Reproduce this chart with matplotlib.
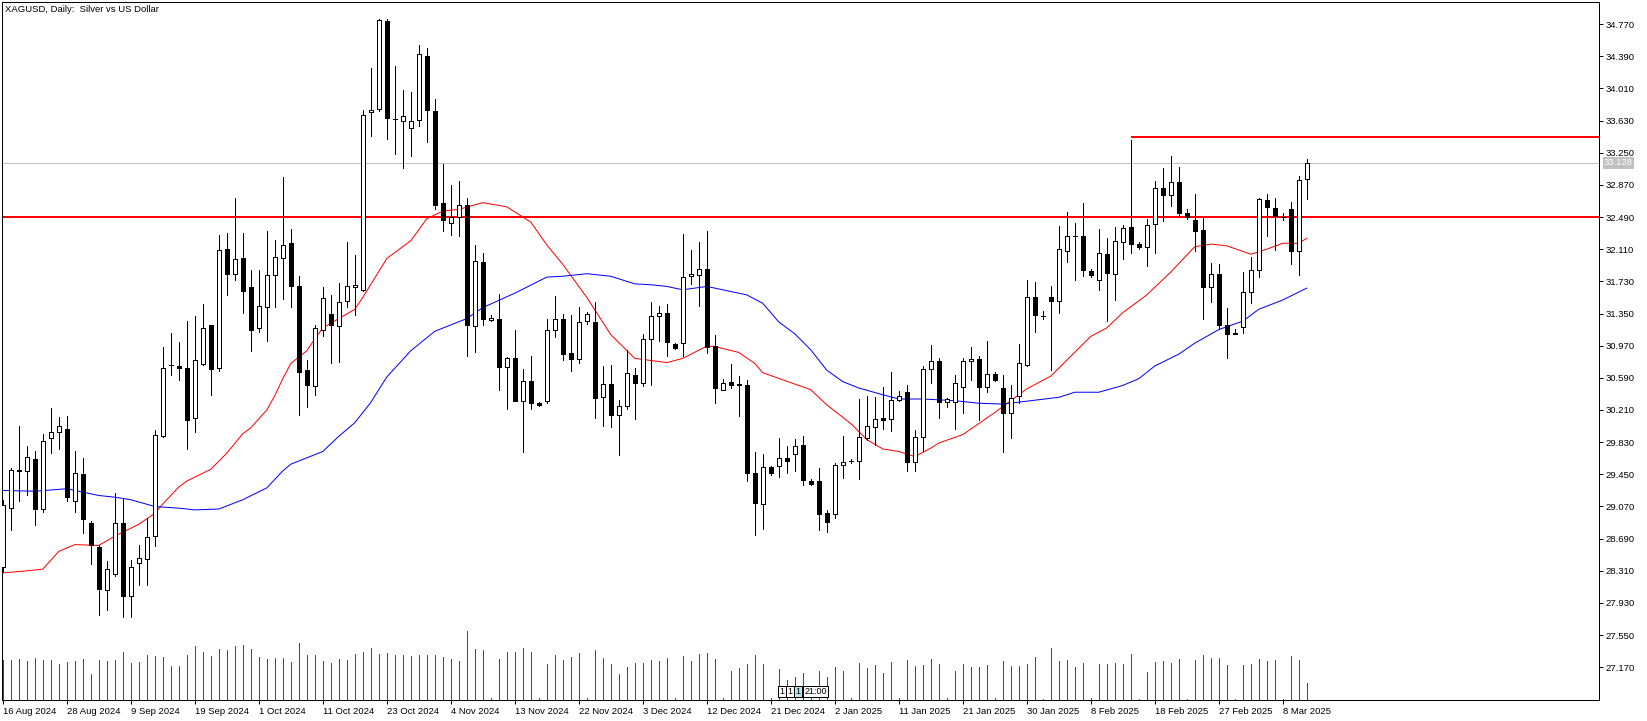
import numpy as np
import matplotlib.pyplot as plt
from matplotlib.patches import Rectangle

# daily candles, XAGUSD (bar 0 = 16 Aug 2024)
opens = [28.35, 29.05, 29.49, 29.49, 29.635, 29.04, 29.88, 29.95, 29.98, 29.13,
         29.45, 28.88, 28.59, 28.08, 28.275, 28.87, 28.01, 28.40, 28.45, 28.72,
         29.90, 30.74, 30.73, 30.71, 30.12, 30.75, 31.21, 30.71, 32.11, 31.815,
         32.01, 31.66, 31.18, 31.43, 31.80, 32.00, 32.18, 31.68, 30.68, 30.49,
         31.16, 31.34, 31.20, 31.50, 31.66, 31.63, 33.73, 33.77, 34.81, 33.645,
         33.63, 33.54, 33.64, 34.39, 33.74, 32.65, 32.42, 32.49, 32.63, 31.20,
         31.96, 31.27, 31.28, 30.72, 30.83, 30.32, 30.55, 30.29, 30.32, 31.15,
         31.29, 30.88, 30.81, 31.26, 31.25, 30.36, 30.52, 30.15, 30.26, 30.62,
         30.53, 31.05, 31.32, 31.36, 30.99, 31.00, 31.79, 31.81, 31.87, 30.965,
         30.45, 30.54, 30.51, 30.505, 29.46, 29.10, 29.535, 29.55, 29.64, 29.69,
         29.80, 29.37, 29.37, 28.99, 28.98, 29.56, 29.605, 29.61, 29.885, 30.01,
         30.11, 30.10, 30.33, 30.42, 29.59, 29.89, 30.70, 30.79, 30.30, 30.30,
         30.48, 30.79, 30.81, 30.48, 30.64, 30.465, 30.17, 30.37, 30.74, 31.54,
         31.32, 31.54, 31.50, 32.09, 32.26, 32.26, 31.85, 31.74, 32.05, 31.82,
         32.20, 32.37, 32.17, 32.14, 32.41, 32.83, 32.75, 32.90, 32.54, 32.45,
         32.34, 31.66, 31.82, 31.21, 31.11, 31.19, 31.60, 31.86, 32.69, 32.60,
         32.49, 32.58, 32.09, 32.94]
highs = [29.15, 29.53, 30.02, 29.79, 29.73, 29.93, 30.23, 30.13, 30.14, 29.73,
         29.64, 28.90, 28.62, 28.43, 29.23, 29.17, 28.44, 28.62, 28.93, 29.97,
         30.95, 31.12, 31.01, 31.26, 31.32, 31.46, 31.21, 32.28, 32.30, 32.71,
         32.30, 31.86, 31.86, 32.32, 32.22, 32.96, 32.35, 31.79, 30.80, 31.21,
         31.66, 31.57, 31.71, 32.19, 32.04, 33.75, 34.25, 34.83, 34.83, 34.27,
         33.99, 33.97, 34.52, 34.49, 33.88, 33.12, 32.87, 32.92, 32.72, 32.16,
         32.07, 31.33, 31.58, 30.84, 31.16, 30.69, 30.85, 30.30, 31.29, 31.56,
         31.35, 31.33, 31.43, 31.37, 31.49, 30.73, 30.74, 30.33, 30.92, 30.71,
         31.11, 31.49, 31.44, 31.46, 31.00, 32.29, 32.10, 32.19, 32.32, 31.10,
         30.58, 30.75, 30.61, 30.57, 29.71, 29.69, 29.55, 29.88, 29.79, 29.87,
         29.90, 29.40, 29.52, 29.03, 29.58, 29.90, 29.63, 30.34, 30.38, 30.36,
         30.48, 30.66, 30.43, 30.50, 29.97, 30.73, 30.98, 30.83, 30.35, 30.62,
         30.83, 30.95, 30.85, 31.02, 30.66, 30.62, 30.50, 30.99, 31.74, 31.72,
         31.38, 31.68, 32.38, 32.55, 32.42, 32.65, 31.88, 32.35, 32.24, 32.37,
         32.40, 33.40, 32.20, 32.47, 32.91, 33.07, 33.21, 33.08, 32.58, 32.76,
         32.48, 31.95, 31.94, 31.41, 31.17, 31.84, 32.02, 32.71, 32.76, 32.71,
         32.54, 32.67, 32.97, 33.17]
lows = [28.30, 28.79, 29.14, 29.21, 28.85, 29.01, 29.70, 29.75, 29.13, 29.00,
        28.76, 28.39, 27.79, 27.85, 28.25, 27.76, 27.77, 28.14, 28.14, 28.60,
        29.89, 30.62, 30.56, 29.75, 29.95, 30.74, 30.39, 30.67, 31.57, 31.75,
        31.36, 30.91, 31.13, 31.02, 31.43, 31.52, 31.43, 30.15, 30.25, 30.39,
        31.08, 30.76, 30.78, 31.43, 31.33, 31.62, 33.445, 33.74, 33.41, 33.23,
        33.07, 33.21, 33.57, 33.38, 32.58, 32.33, 32.28, 32.26, 30.85, 30.89,
        31.21, 31.26, 30.45, 30.22, 30.32, 29.71, 30.22, 30.26, 30.29, 31.07,
        30.80, 30.67, 30.76, 31.23, 30.11, 30.02, 30.01, 29.68, 30.22, 30.10,
        30.49, 30.50, 31.02, 30.85, 30.93, 30.85, 31.70, 31.44, 30.88, 30.29,
        30.45, 30.47, 30.14, 29.37, 28.73, 28.80, 29.44, 29.42, 29.46, 29.49,
        29.32, 29.32, 28.79, 28.77, 28.94, 29.41, 29.58, 29.40, 29.86, 29.80,
        29.99, 29.96, 30.32, 29.495, 29.495, 29.73, 30.525, 30.12, 30.25, 29.98,
        30.18, 30.56, 30.09, 30.42, 30.55, 29.71, 29.88, 30.29, 30.73, 31.13,
        31.28, 30.68, 31.36, 31.96, 31.75, 31.79, 31.78, 31.63, 31.26, 31.51,
        31.99, 32.07, 32.11, 31.91, 32.07, 32.44, 32.615, 32.49, 32.47, 32.09,
        31.29, 31.49, 31.17, 30.82, 31.11, 31.12, 31.47, 31.78, 32.26, 32.10,
        32.45, 31.93, 31.81, 32.70]
closes = [29.09, 29.50, 29.50, 29.65, 29.04, 29.845, 29.95, 30.02, 29.18, 29.47,
          28.92, 28.61, 28.10, 28.33, 28.88, 28.01, 28.36, 28.46, 28.71, 29.91,
          30.71, 30.745, 30.71, 30.09, 30.80, 31.18, 30.70, 32.10, 31.82, 31.99,
          31.62, 31.16, 31.44, 31.81, 32.02, 32.16, 31.68, 30.66, 30.50, 31.18,
          31.535, 31.21, 31.49, 31.67, 31.69, 33.69, 33.76, 34.82, 33.66, 33.65,
          33.68, 33.63, 34.41, 33.75, 32.63, 32.45, 32.49, 32.63, 31.22, 31.97,
          31.28, 31.30, 30.72, 30.82, 30.32, 30.55, 30.29, 30.27, 31.15, 31.29,
          30.87, 30.81, 31.25, 31.35, 30.35, 30.52, 30.15, 30.26, 30.65, 30.53,
          31.05, 31.32, 31.36, 31.01, 30.94, 31.78, 31.82, 31.87, 30.96, 30.47,
          30.525, 30.51, 30.515, 29.47, 29.11, 29.535, 29.47, 29.64, 29.61, 29.79,
          29.38, 29.33, 28.98, 28.89, 29.56, 29.60, 29.61, 29.89, 30.02, 30.10,
          30.09, 30.33, 30.37, 29.59, 29.89, 30.70, 30.79, 30.30, 30.34, 30.525,
          30.79, 30.81, 30.48, 30.64, 30.56, 30.17, 30.35, 30.77, 31.54, 31.33,
          31.325, 31.50, 32.107, 32.26, 32.265, 31.86, 31.80, 32.06, 31.83, 32.21,
          32.365, 32.17, 32.13, 32.40, 32.83, 32.75, 32.90, 32.54, 32.49, 32.33,
          31.66, 31.82, 31.21, 31.11, 31.115, 31.60, 31.86, 32.70, 32.61, 32.50,
          32.495, 32.09, 32.93, 33.128]
# tick volume, thousands
volumes = [40, 40, 41, 39, 42, 40, 40, 36, 38, 39,
           41, 26, 40, 39, 40, 48, 37, 38, 45, 44,
           43, 34, 34, 45, 54, 48, 44, 51, 50, 54,
           55, 51, 43, 41, 42, 42, 38, 57, 45, 45,
           39, 37, 41, 40, 46, 48, 52, 46, 47, 45,
           45, 44, 45, 45, 45, 43, 41, 39, 69, 51,
           50, 2, 41, 48, 48, 52, 48, 2, 36, 45,
           40, 43, 47, 2, 50, 42, 36, 26, 33, 37,
           37, 40, 39, 42, 2, 44, 39, 46, 47, 41,
           2, 29, 32, 36, 45, 36, 2, 31, 20, 23,
           27, 2, 29, 23, 33, 29, 2, 37, 32, 35,
           27, 38, 2, 40, 34, 35, 41, 36, 2, 29,
           36, 33, 33, 35, 2, 39, 34, 34, 36, 43,
           1, 52, 39, 40, 33, 37, 2, 36, 36, 37,
           36, 46, 1, 28, 38, 39, 37, 41, 1, 40,
           45, 42, 42, 35, 1, 35, 36, 41, 39, 40,
           1, 44, 40, 17]

# moving averages (bar index, price)
ma_red_idx = [0, 3, 5, 7, 9, 12, 14, 17, 19, 20, 22, 23, 26, 28, 30, 31, 33, 34,
              35, 36, 38, 39, 40, 42, 44, 45, 48, 51, 53, 55, 57, 60, 63, 66, 68,
              70, 73, 76, 79, 83, 85, 88, 89, 92, 94, 95, 98, 101, 103, 106, 108,
              110, 112, 114, 116, 117, 120, 122, 124, 128, 131, 136, 138, 140, 143,
              146, 149, 151, 153, 156, 158, 160, 162, 163]
ma_red = [28.285, 28.31, 28.33, 28.54, 28.62, 28.61, 28.72, 28.86, 28.99, 29.10,
          29.30, 29.37, 29.51, 29.70, 29.93, 30.00, 30.21, 30.38, 30.58, 30.76,
          30.91, 31.05, 31.18, 31.29, 31.40, 31.54, 32.00, 32.21, 32.47, 32.56,
          32.58, 32.66, 32.61, 32.43, 32.16, 31.93, 31.54, 31.10, 30.82, 30.77,
          30.82, 30.965, 30.96, 30.89, 30.76, 30.65, 30.55, 30.45, 30.27, 30.05,
          29.86, 29.75, 29.72, 29.66, 29.76, 29.82, 29.92, 30.05, 30.18, 30.46,
          30.61, 31.08, 31.18, 31.36, 31.57, 31.84, 32.14, 32.17, 32.15, 32.05,
          32.11, 32.18, 32.18, 32.24]
ma_blue_idx = [0, 4, 8, 12, 14, 16, 19, 22, 24, 27, 30, 33, 35, 36, 40, 42, 44, 46,
               48, 51, 54, 58, 60, 64, 68, 70, 73, 76, 79, 81, 83, 85, 88, 90, 93,
               95, 97, 99, 101, 103, 105, 107, 110, 112, 115, 119, 122, 125, 132,
               134, 137, 140, 142, 144, 147, 149, 152, 155, 157, 160, 163]
ma_blue = [29.26, 29.25, 29.28, 29.20, 29.18, 29.15, 29.07, 29.05, 29.03, 29.04,
           29.15, 29.29, 29.49, 29.57, 29.72, 29.90, 30.06, 30.30, 30.60, 30.91,
           31.14, 31.29, 31.42, 31.59, 31.78, 31.79, 31.82, 31.79, 31.70, 31.69,
           31.67, 31.63, 31.67, 31.63, 31.57, 31.47, 31.25, 31.11, 30.92, 30.68,
           30.545, 30.47, 30.39, 30.34, 30.34, 30.32, 30.29, 30.28, 30.36, 30.42,
           30.42, 30.50, 30.58, 30.73, 30.87, 31.00, 31.16, 31.26, 31.40, 31.51,
           31.65]

date_labels = ["16 Aug 2024", "28 Aug 2024", "9 Sep 2024", "19 Sep 2024", "1 Oct 2024",
               "11 Oct 2024", "23 Oct 2024", "4 Nov 2024", "13 Nov 2024", "22 Nov 2024",
               "3 Dec 2024", "12 Dec 2024", "21 Dec 2024", "2 Jan 2025", "11 Jan 2025",
               "21 Jan 2025", "30 Jan 2025", "8 Feb 2025", "18 Feb 2025", "27 Feb 2025",
               "8 Mar 2025"]
price_ticks = [34.770, 34.390, 34.010, 33.630, 33.250, 32.870, 32.490, 32.110, 31.730,
               31.350, 30.970, 30.590, 30.210, 29.830, 29.450, 29.070, 28.690, 28.310,
               27.930, 27.550, 27.170]
support_level = 32.49
top_level = 33.43
top_level_from = 141
last_price = 33.128

W, H = 1647, 721
px = 72 / 100  # one pixel in points
fs = 6.8
plt.rcParams['font.family'] = ['Liberation Sans', 'DejaVu Sans']

fig = plt.figure(figsize=(W / 100, H / 100), dpi=100)
ax = fig.add_axes([2 / W, 21 / H, 1597 / W, 698 / H])
axv = ax.twinx()
ax.set_zorder(axv.get_zorder() + 1)
ax.patch.set_visible(False)

n = len(closes)
x = np.arange(n)

# volume bars
axv.vlines(x, 0, volumes, color='#008000', lw=px, antialiased=False)
axv.set_ylim(0, max(volumes) / 0.099)
axv.set_yticks([])
for s in axv.spines.values():
    s.set_visible(False)

# horizontal levels
ax.axhline(last_price, color='#C0C0C0', lw=px, zorder=1)
ax.axhline(support_level, color='#FF0000', lw=2 * px, zorder=2)
ax.hlines(top_level, top_level_from, 300, color='#FF0000', lw=2 * px, zorder=2)

# moving averages
ax.plot(ma_red_idx, ma_red, color='#FF0000', lw=px, zorder=3)
ax.plot(ma_blue_idx, ma_blue, color='#0000FF', lw=px, zorder=3)

# candles
ax.vlines(x, lows, highs, color='black', lw=px, zorder=4, antialiased=False)
bw = 0.55
for i in range(n):
    o, c = opens[i], closes[i]
    up = c >= o
    ax.add_patch(Rectangle((i - bw / 2, min(o, c)), bw, max(abs(c - o), 0.004),
                           facecolor='white' if up else 'black', edgecolor='black',
                           lw=px, zorder=5, antialiased=False))

ax.set_xlim(-0.1, 199.525)
ax.set_ylim(26.784, 35.03)

ax.yaxis.tick_right()
ax.set_yticks(price_ticks)
ax.set_yticklabels([f"{t:.3f}" for t in price_ticks], fontsize=fs)
ax.set_xticks(np.arange(0, 8 * len(date_labels), 8))
ax.set_xticklabels(date_labels, fontsize=fs, ha='left')
ax.tick_params(axis='both', direction='out', length=4 * px, width=px, colors='black',
               pad=2)
for s in ax.spines.values():
    s.set_color('black')
    s.set_linewidth(px)

ax.annotate("XAGUSD, Daily:  Silver vs US Dollar", xy=(0, 1), xycoords='axes fraction',
            xytext=(3, -3), textcoords='offset pixels', ha='left', va='top', fontsize=fs)

ax.annotate(f"{last_price:.3f}", xy=(1, last_price), xycoords=ax.get_yaxis_transform(),
            xytext=(5, 0), textcoords='offset pixels', ha='left', va='center',
            color='white', fontsize=fs,
            bbox=dict(boxstyle='square,pad=0.15', fc='#C0C0C0', ec='none'))

# small event markers near the bottom
marks = [(97.4, "1", 'white'), (98.4, "1", 'white'), (99.4, "1", '#B4E8F0'),
         (101.6, "21:00", 'white')]
for mx, mt, mc in marks:
    ax.text(mx, 0.012, mt, transform=ax.get_xaxis_transform(), ha='center',
            va='center', fontsize=fs - 0.3, zorder=6,
            bbox=dict(boxstyle='square,pad=0.12', fc=mc, ec='black', lw=px))

fig.savefig("out.png", dpi=100, facecolor='white')
